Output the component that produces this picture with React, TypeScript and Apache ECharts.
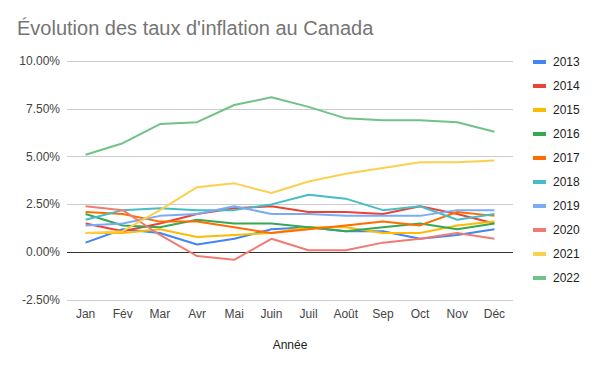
import React, { useEffect, useRef } from "react";
import * as echarts from "echarts";

const months = ["Jan", "Fév", "Mar", "Avr", "Mai", "Juin", "Juil", "Août", "Sep", "Oct", "Nov", "Déc"];
const years = ["2013", "2014", "2015", "2016", "2017", "2018", "2019", "2020", "2021", "2022"];
const colors = ["#4285F4", "#EA4335", "#FBBC04", "#34A853", "#FF6D01", "#46BDC6", "#7BAAF7", "#F07B72", "#FCD04F", "#71C287"];

const y2013 = [0.5, 1.2, 1.0, 0.4, 0.7, 1.2, 1.3, 1.1, 1.1, 0.7, 0.9, 1.2];
const y2014 = [1.5, 1.1, 1.5, 2.0, 2.3, 2.4, 2.1, 2.1, 2.0, 2.4, 2.0, 1.5];
const y2015 = [1.0, 1.0, 1.2, 0.8, 0.9, 1.0, 1.3, 1.3, 1.0, 1.0, 1.4, 1.6];
const y2016 = [2.0, 1.4, 1.3, 1.7, 1.5, 1.5, 1.3, 1.1, 1.3, 1.5, 1.2, 1.5];
const y2017 = [2.1, 2.0, 1.6, 1.6, 1.3, 1.0, 1.2, 1.4, 1.6, 1.4, 2.1, 1.9];
const y2018 = [1.7, 2.2, 2.3, 2.2, 2.2, 2.5, 3.0, 2.8, 2.2, 2.4, 1.7, 2.0];
const y2019 = [1.4, 1.5, 1.9, 2.0, 2.4, 2.0, 2.0, 1.9, 1.9, 1.9, 2.2, 2.2];
const y2020 = [2.4, 2.2, 0.9, -0.2, -0.4, 0.7, 0.1, 0.1, 0.5, 0.7, 1.0, 0.7];
const y2021 = [1.0, 1.1, 2.2, 3.4, 3.6, 3.1, 3.7, 4.1, 4.4, 4.7, 4.7, 4.8];
const y2022 = [5.1, 5.7, 6.7, 6.8, 7.7, 8.1, 7.6, 7.0, 6.9, 6.9, 6.8, 6.3];

const seriesData = [y2013, y2014, y2015, y2016, y2017, y2018, y2019, y2020, y2021, y2022];

const FONT = "'Liberation Sans', Arial, sans-serif";

export default function App() {
  const ref = useRef<HTMLDivElement>(null);
  useEffect(() => {
    if (!ref.current) return;
    const chart = echarts.init(ref.current, undefined, { renderer: "svg" });
    chart.setOption({
      animation: false,
      backgroundColor: "#ffffff",
      textStyle: { fontFamily: FONT },
      title: {
        text: "Évolution des taux d'inflation au Canada",
        left: 17,
        top: 18,
        padding: 0,
        textStyle: { fontFamily: FONT, fontSize: 20, fontWeight: "normal", color: "#757575" },
      },
      legend: {
        orient: "vertical",
        left: 533,
        top: 55,
        padding: 0,
        itemWidth: 13,
        itemHeight: 4,
        itemGap: 10,
        icon: "rect",
        data: years,
        textStyle: { fontFamily: FONT, fontSize: 12, color: "#222222", lineHeight: 14, padding: [0, 0, 0, 2] },
      },
      grid: { left: 67, right: 87, top: 61, bottom: 71, containLabel: false },
      xAxis: {
        type: "category",
        data: months,
        boundaryGap: true,
        name: "Année",
        nameLocation: "middle",
        nameGap: 39,
        nameTextStyle: { fontFamily: FONT, fontSize: 12, color: "#222222" },
        axisLine: { show: false, onZero: false },
        axisTick: { show: false },
        axisLabel: { fontFamily: FONT, fontSize: 12, color: "#444444", margin: 8 },
      },
      yAxis: {
        type: "value",
        min: -2.5,
        max: 10,
        interval: 2.5,
        axisLine: { show: false },
        axisTick: { show: false },
        axisLabel: {
          fontFamily: FONT,
          fontSize: 12,
          color: "#444444",
          margin: 7,
          formatter: (v: number) => v.toFixed(2) + "%",
        },
        splitLine: {
          lineStyle: { color: ["#cccccc", "#333333", "#cccccc", "#cccccc", "#cccccc", "#cccccc"], width: 1 },
        },
      },
      series: years.map((y, i) => ({
        name: y,
        type: "line",
        data: seriesData[i],
        color: colors[i],
        symbol: "none",
        showSymbol: false,
        lineStyle: { width: 2, color: colors[i] },
        itemStyle: { color: colors[i] },
      })),
    });
    return () => chart.dispose();
  }, []);
  return <div ref={ref} style={{ width: 600, height: 371, position: "absolute", left: 0, top: 0 }} />;
}
